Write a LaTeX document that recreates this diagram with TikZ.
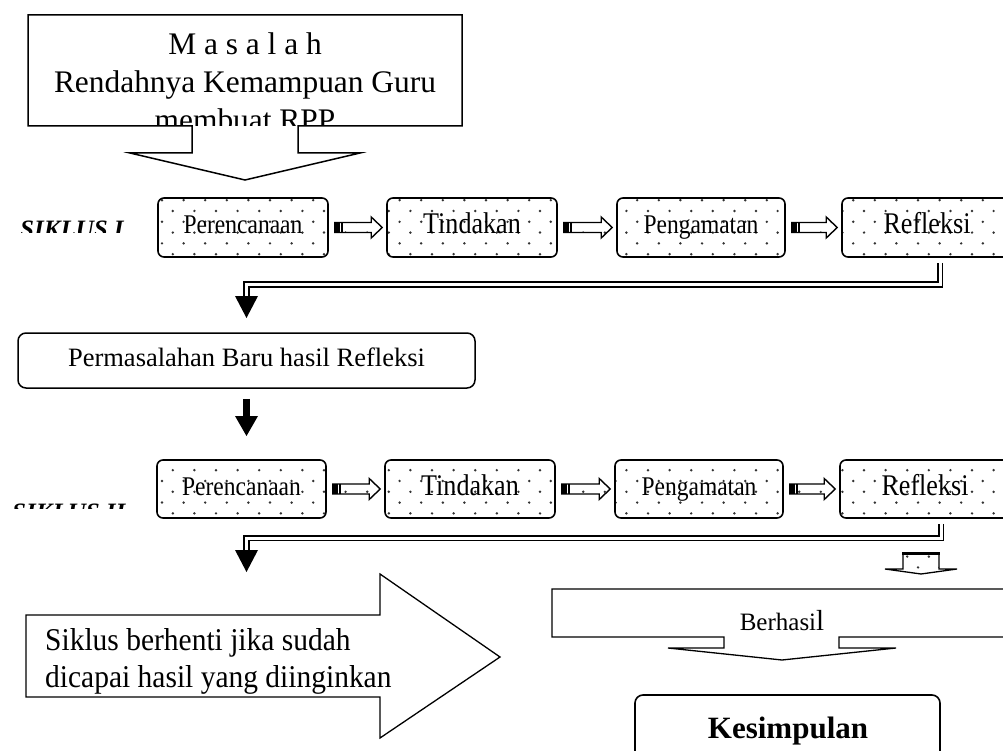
\documentclass[tikz,border=0pt]{standalone}
\usepackage{fontspec}
\usepackage{graphicx}
\setmainfont{Liberation Serif}
\usetikzlibrary{calc,patterns}
\pgfdeclarepatternformonly{sparsedots}{\pgfpoint{-2pt}{-2pt}}{\pgfpoint{13pt}{13pt}}{\pgfpoint{21.6pt}{21.6pt}}{%
  \pgfpathcircle{\pgfpoint{0pt}{0pt}}{1.35pt}%
  \pgfpathcircle{\pgfpoint{10.8pt}{10.8pt}}{1.35pt}%
  \pgfusepath{fill}}
\newcommand\condtxt[2]{\scalebox{0.87}[1]{\fontsize{#1}{#1}\selectfont #2}}
\newcommand\striparrow[2]{%
  \coordinate (sa) at ($(#1.east)+(6,0)$);
  \coordinate (sb) at ($(#2.west)+(-4,0)$);
  \draw[line width=1.4pt, pattern=sparsedots, pattern color=black!80]
    ($(sa)+(0,-5)$) -- ($(sb |- sa)+(-11,-5)$) -- ($(sb |- sa)+(-11,-10.5)$) -- (sb |- sa)
    -- ($(sb |- sa)+(-11,10.5)$) -- ($(sb |- sa)+(-11,5)$) -- ($(sa)+(0,5)$) -- cycle;
  \fill ($(sa)+(0,-5)$) rectangle ($(sa)+(5,5)$);
  \fill ($(sa)+(6.5,-5)$) rectangle ($(sa)+(8,5)$);
}
\begin{document}
\begin{tikzpicture}[x=1pt,y=-1pt,
  every node/.style={inner sep=0pt},
  dotbox/.style={draw, line width=1.6pt, rounded corners=6pt, pattern=sparsedots,
    pattern color=black!80, minimum height=59pt, text height=18pt, text depth=5pt},
  dbl/.style={draw, line width=1.8pt, double=white, double distance=3pt},
  sik/.style={font=\fontsize{25}{30}\selectfont\bfseries\itshape, anchor=base west}]
\useasboundingbox (0,0) rectangle (1003,751);

% Masalah callout
\draw[line width=1.5pt] (192,126) -- (28,126) -- (28,15) -- (462,15) -- (462,126) -- (298,126)
  -- (298,153) -- (360,153) -- (245,180) -- (130,153) -- (192,153) -- cycle;
\begin{scope}
  \clip (28,15) rectangle (462,126);
  \node[anchor=base, font=\fontsize{31.4}{38}\selectfont] (m1) at (245,55) {M a s a l a h};
  \node[anchor=base, font=\fontsize{31.4}{38}\selectfont] (m2) at (245,93) {Rendahnya Kemampuan Guru};
  \node[anchor=base, font=\fontsize{31.4}{38}\selectfont] (m3) at (245,131) {membuat RPP};
\end{scope}

% SIKLUS labels
\begin{scope}
  \clip (0,200) rectangle (150,233);
  \node[sik] (s1) at (20,237) {SIKLUS I};
\end{scope}
\begin{scope}
  \clip (0,480) rectangle (150,508);
  \node[sik] (s2) at (12,520) {SIKLUS II};
\end{scope}

% Row 1
\node[dotbox, minimum width=170pt] (P1) at (243,227.5) {\condtxt{27}{Perencanaan}};
\node[dotbox, minimum width=170pt] (T1) at (472,227.5) {\condtxt{30}{Tindakan}};
\node[dotbox, minimum width=168pt] (G1) at (701,227.5) {\condtxt{27}{Pengamatan}};
\node[dotbox, minimum width=170pt] (R1) at (927,227.5) {\condtxt{30}{Refleksi}};
\striparrow{P1}{T1}
\striparrow{T1}{G1}
\striparrow{G1}{R1}

% connector 1
\coordinate (tip1) at (246.5,318);
\draw[dbl] ($(R1.south)+(13,5)$) |- ($(tip1)+(0,-33.5)$) -- ($(tip1)+(0,-22)$);
\fill ($(tip1)+(-11.5,-22)$) -- (tip1) -- ($(tip1)+(11.5,-22)$) -- cycle;

% Permasalahan
\node[draw, line width=1.5pt, rounded corners=8pt, minimum width=457pt, minimum height=55pt,
  font=\fontsize{26.5}{30}\selectfont, text height=17pt, text depth=5pt] (pb) at (246.5,360.5) {Permasalahan Baru hasil Refleksi};
\coordinate (tip3) at (246.5,436);
\draw[line width=6.5pt] ($(pb.south)+(0,10)$) -- ($(tip3)+(0,-19)$);
\fill ($(tip3)+(-11.5,-20)$) -- (tip3) -- ($(tip3)+(11.5,-20)$) -- cycle;

% Row 2
\node[dotbox, minimum width=169pt, minimum height=58pt] (P2) at (241.5,489) {\condtxt{27}{Perencanaan}};
\node[dotbox, minimum width=170pt, minimum height=58pt] (T2) at (470,489) {\condtxt{30}{Tindakan}};
\node[dotbox, minimum width=168pt, minimum height=58pt] (G2) at (699,489) {\condtxt{27}{Pengamatan}};
\node[dotbox, minimum width=170pt, minimum height=58pt] (R2) at (925,489) {\condtxt{30}{Refleksi}};
\striparrow{P2}{T2}
\striparrow{T2}{G2}
\striparrow{G2}{R2}

% connector 2
\coordinate (tip2) at (246.5,572);
\draw[dbl] ($(R2.south)+(16,5)$) |- ($(tip2)+(0,-34)$) -- ($(tip2)+(0,-22)$);
\fill ($(tip2)+(-11.5,-22)$) -- (tip2) -- ($(tip2)+(11.5,-22)$) -- cycle;

% small dotted arrow
\draw[line width=1.3pt, pattern=sparsedots, pattern color=black!80]
  (903,553) -- (939,553) -- (939,569) -- (957,569) -- (921,574) -- (885,569) -- (903,569) -- cycle;
\draw[line width=3pt] (902,553) -- (940,553);

% Berhasil callout
\draw[line width=1.3pt] (724,637) -- (552,637) -- (552,589) -- (1010,589) -- (1010,637) -- (839,637)
  -- (839,648) -- (896,648) -- (782,660) -- (668,648) -- (724,648) -- cycle;
\node[anchor=base] (ber) at (782,630) {\fontsize{25}{30}\selectfont Berhasi\fontsize{29}{30}\selectfont l};

% Siklus big arrow
\draw[line width=1.3pt] (26,615) -- (380,615) -- (380,574) -- (500,657) -- (380,738) -- (380,697) -- (26,697) -- cycle;
\node[anchor=base west] (sk1) at (45,650) {\scalebox{0.93}[1]{\fontsize{31.7}{35}\selectfont Siklus berhenti jika sudah}};
\node[anchor=base west] (sk2) at (45,687) {\scalebox{0.93}[1]{\fontsize{31.7}{35}\selectfont dicapai hasil yang diinginkan}};

% Kesimpulan
\node[draw, line width=1.6pt, rounded corners=8pt, minimum width=305pt, minimum height=90pt] (kes) at (787.5,740) {};
\node[anchor=base, font=\fontsize{31}{36}\selectfont\bfseries] (kestxt) at (788,738) {Kesimpulan};
\end{tikzpicture}
\end{document}
